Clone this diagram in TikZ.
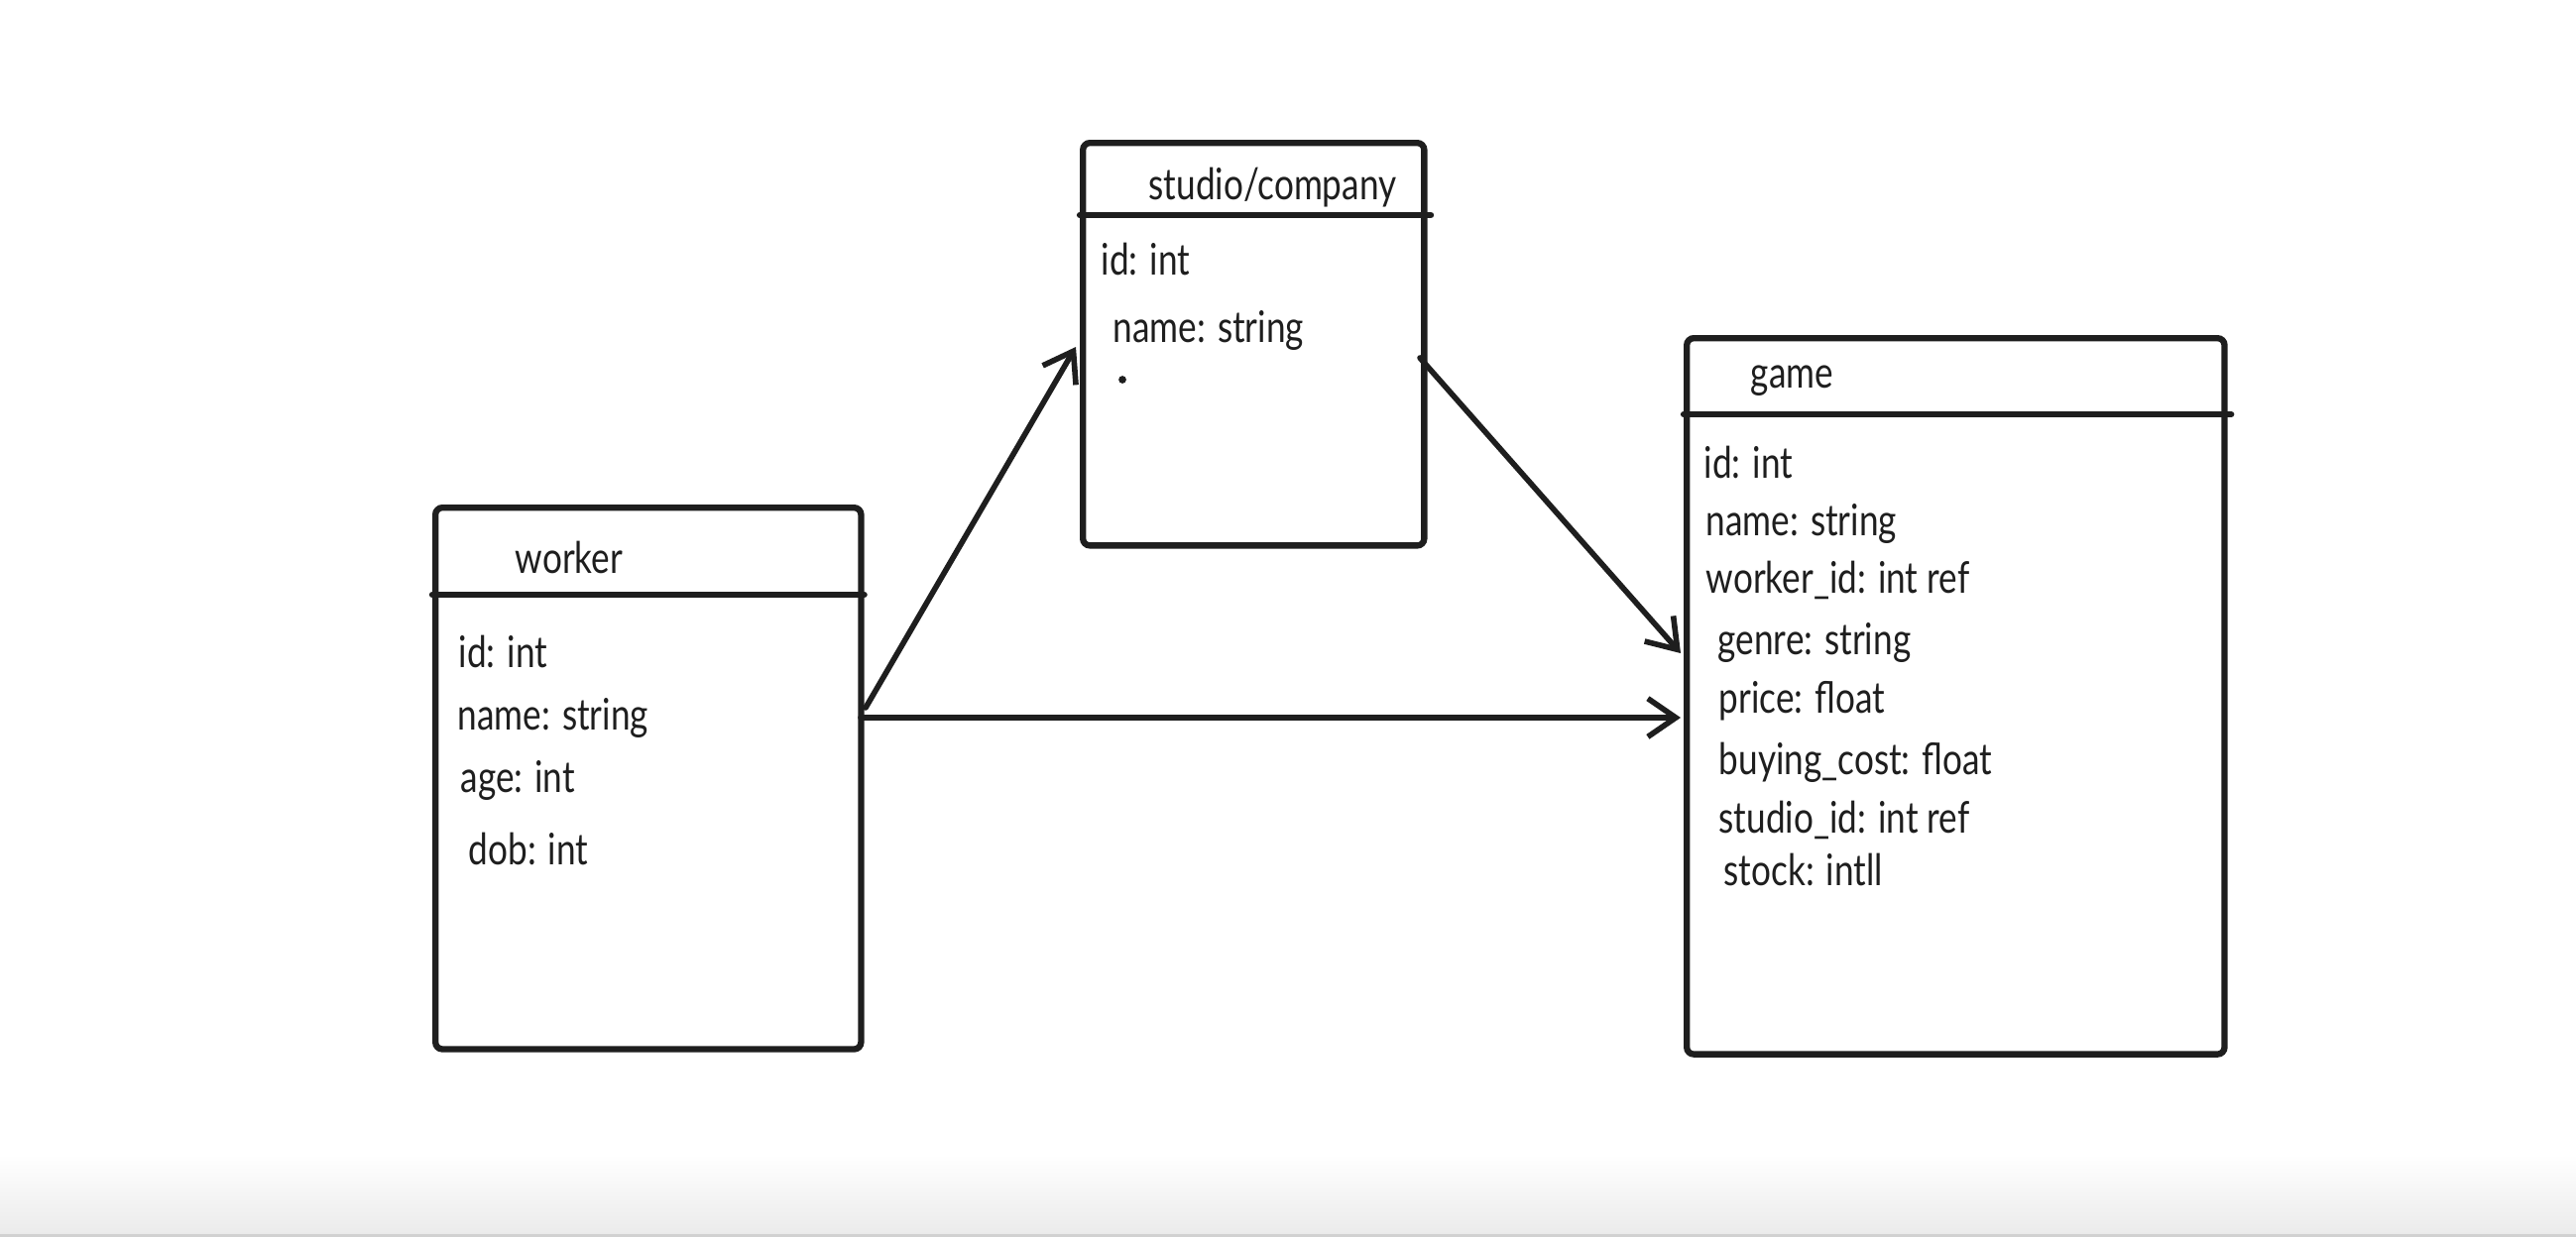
\documentclass[tikz,border=0pt]{standalone}
\usepackage{fontspec}
\setmainfont{Lato}[FakeStretch=0.8]
\usetikzlibrary{arrows.meta}

\definecolor{ink}{HTML}{1E1E1E}
\tikzset{
  tbl/.style={draw=ink, line width=1.8pt, rounded corners=2pt, anchor=north west, inner sep=0pt},
  hdr/.style={draw=ink, line width=1.8pt, line cap=round},
  fld/.style={anchor=mid west, inner sep=0pt, yshift=-2pt, text=ink, font=\fontsize{12.5}{14}\selectfont},
  rel/.style={draw=ink, line width=1.6pt, line cap=round, -{Straight Barb[length=8pt,width=11pt]}},
}

\begin{document}
\begin{tikzpicture}[x=0.01cm, y=-0.01cm]
  \useasboundingbox (0,0) rectangle (2598,1248);
  % faint grey band at the bottom
  \shade[top color=white, bottom color=black!8, draw=none] (0,1165) rectangle (2598,1246);
  \fill[black!18] (0,1245) rectangle (2598,1248);

  % tables
  \node[tbl, minimum width=4.29cm, minimum height=5.46cm] (worker) at (436,509) {};
  \node[tbl, minimum width=3.44cm, minimum height=4.06cm] (studio) at (1089,141) {};
  \node[tbl, minimum width=5.42cm, minimum height=7.22cm] (game) at (1698,338) {};

  \draw[hdr] (worker.west |- 0,600) -- (worker.east |- 0,600);
  \draw[hdr] (studio.west |- 0,217) -- ([xshift=1pt]studio.east |- 0,217);
  \draw[hdr] (game.west |- 0,418) -- ([xshift=1pt]game.east |- 0,418);

  % worker
  \node[fld] (wk-t) at (519,563) {worker};
  \node[fld] (wk-1) at (462,658) {id: int};
  \node[fld] (wk-2) at (461,721) {name: string};
  \node[fld] (wk-3) at (464,784) {age: int};
  \node[fld] (wk-4) at (472,857) {dob: int};

  % studio/company
  \node[fld] (st-t) at (1158,186) {studio/company};
  \node[fld] (st-1) at (1110,262) {id: int};
  \node[fld] (st-2) at (1122,330) {name: string};
  \fill[ink] (1132,383) circle (1.1pt);

  % game
  \node[fld] (gm-t) at (1765,376) {game};
  \node[fld] (gm-1) at (1718,467) {id: int};
  \node[fld] (gm-2) at (1720,525) {name: string};
  \node[fld] (gm-3) at (1720,583) {worker\_id: int ref};
  \node[fld] (gm-4) at (1732,645) {genre: string};
  \node[fld] (gm-5) at (1733,704) {price: float};
  \node[fld] (gm-6) at (1733,766) {buying\_cost: float};
  \node[fld] (gm-7) at (1733,825) {studio\_id: int ref};
  \node[fld] (gm-8) at (1738,878) {stock: intll};

  % relations
  \coordinate (wk-up) at (873,714);
  \coordinate (wk-out) at (868,724);
  \coordinate (st-in) at (1085,350);
  \coordinate (st-out) at (1432,361);
  \coordinate (gm-in1) at (1695,659);
  \coordinate (gm-in2) at (1695,724);

  \draw[rel] (wk-up) -- (st-in);
  \draw[rel] (st-out) -- (gm-in1);
  \draw[rel] (wk-out) -- (gm-in2);
\end{tikzpicture}
\end{document}
